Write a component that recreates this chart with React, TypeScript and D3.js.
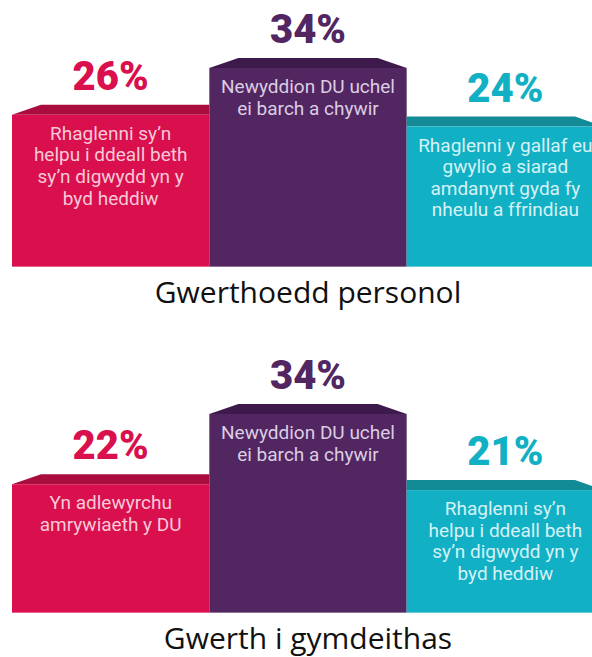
import React from "react";
import * as d3 from "d3";

const panelTitles = ["Gwerthoedd personol", "Gwerth i gymdeithas"];
const personalValues = [26, 34, 24];
const societyValues = [22, 34, 21];
const personalLabels = [
  ["Rhaglenni sy’n", "helpu i ddeall beth", "sy’n digwydd yn y", "byd heddiw"],
  ["Newyddion DU uchel", "ei barch a chywir"],
  ["Rhaglenni y gallaf eu", "gwylio a siarad", "amdanynt gyda fy", "nheulu a ffrindiau"],
];
const societyLabels = [
  ["Yn adlewyrchu", "amrywiaeth y DU"],
  ["Newyddion DU uchel", "ei barch a chywir"],
  ["Rhaglenni sy’n", "helpu i ddeall beth", "sy’n digwydd yn y", "byd heddiw"],
];
const positions = ["left", "center", "right"];

const frontColors = ["#d90f4e", "#512661", "#12b0c4"];
const topColors = ["#a80d3d", "#3e1a4c", "#128b97"];
const textColors = ["#f8c9d7", "#dccde4", "#d6f2f6"];

const W = 592;
const H = 657;
const FONT = "Roboto, 'Open Sans', sans-serif";

function Panel({ values, labels, title, baseline }: { values: number[]; labels: string[][]; title: string; baseline: number }) {
  const x = d3.scaleBand<string>().domain(positions).range([12, 604]).padding(0);
  const y = d3.scaleLinear().domain([0, 34]).range([baseline, baseline - 199]);
  const depth = 10;
  const slant = 29;
  return (
    <g>
      {values.map((v, i) => {
        const x0 = x(positions[i])!;
        const x1 = x0 + x.bandwidth();
        const yt = y(v);
        const ytop = yt - depth;
        const leftSlant = i === 0 || i === 1;
        const rightSlant = i === 2 || i === 1;
        const pts: [number, number][] = [
          [x0, yt],
          [leftSlant ? x0 + slant : x0, ytop],
          [rightSlant ? x1 - slant : x1, ytop],
          [x1, yt],
        ];
        const cx = (x0 + x1) / 2;
        return (
          <g key={i}>
            <polygon points={pts.map((p) => p.join(",")).join(" ")} fill={topColors[i]} />
            <rect x={x0} y={yt} width={x1 - x0} height={baseline - yt} fill={frontColors[i]} />
            <rect x={x0} y={baseline - 1} width={x1 - x0} height={1.5} fill="#fff" opacity={0.35} />
            <text
              x={cx}
              y={ytop - 15}
              textAnchor="middle"
              fontFamily={FONT}
              fontWeight={900}
              fontSize={40}
              fill={frontColors[i]}
            >
              {v}%
            </text>
            {labels[i].map((line, j) => (
              <text
                key={j}
                x={cx}
                y={yt + 25 + j * 21.6}
                textAnchor="middle"
                fontFamily={FONT}
                fontSize={19}
                fill={textColors[i]}
              >
                {line}
              </text>
            ))}
          </g>
        );
      })}
      <text x={308} y={baseline + 36} textAnchor="middle" fontFamily="'Open Sans', sans-serif" fontWeight={500} fontSize={30} fill="#111">
        {title}
      </text>
    </g>
  );
}

export default function App() {
  return (
    <svg width={W} height={H} style={{ position: "absolute", left: 0, top: 0 }}>
      <rect width={W} height={H} fill="#fff" />
      <Panel values={personalValues} labels={personalLabels} title={panelTitles[0]} baseline={267} />
      <Panel values={societyValues} labels={societyLabels} title={panelTitles[1]} baseline={613} />
    </svg>
  );
}
